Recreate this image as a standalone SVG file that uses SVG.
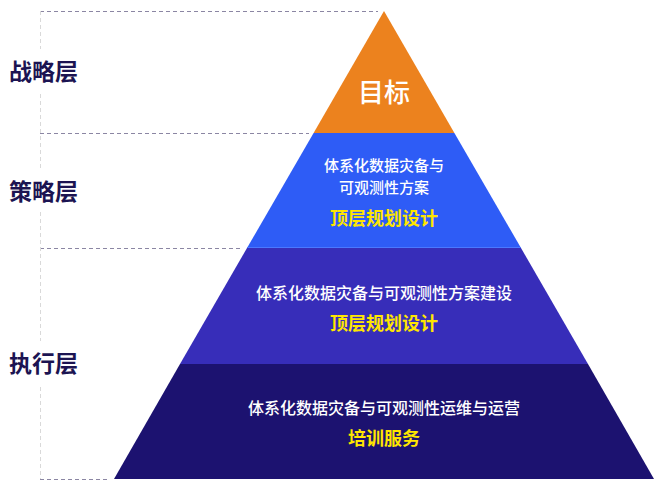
<svg xmlns="http://www.w3.org/2000/svg" width="664" height="491" viewBox="0 0 664 491">
<style>
.lbl{font-family:"Noto Sans CJK SC","Noto Sans",sans-serif;font-size:23px;font-weight:bold;fill:#1c1452}
.w{font-family:"Noto Sans CJK SC","Noto Sans",sans-serif;font-size:16px;font-weight:500;fill:#ffffff;text-anchor:middle}
.w2{font-size:15px}
.y{font-family:"Noto Sans CJK SC","Noto Sans",sans-serif;font-size:18px;font-weight:bold;fill:#ffe600;text-anchor:middle}
.hd{stroke:#8b86a3;stroke-width:1;stroke-dasharray:4 3;fill:none}
.vd{stroke:#d9d9d9;stroke-width:1;stroke-dasharray:4 3;fill:none}
</style>
<defs>
<radialGradient id="sh" cx="0.5" cy="0" r="0.5">
<stop offset="0" stop-color="#000" stop-opacity="0.35"/>
<stop offset="1" stop-color="#000" stop-opacity="0"/>
</radialGradient>
<clipPath id="c2"><polygon points="313.6,133 454.4,133 521,248 247,248"/></clipPath>
<clipPath id="c3"><polygon points="247,248 521,248 588,364 180,364"/></clipPath>
<clipPath id="c4"><polygon points="180,364 588,364 654,479 114,479"/></clipPath>
</defs>
<g id="guides">
<path class="hd" d="M40,11.5H378M40,133.5H309M40,248.5H243M40,479.5H110"/>
<path class="vd" d="M40.5,11V49M40.5,94V170M40.5,212V341M40.5,387V479"/>
</g>
<g id="label-strategy"><text class="lbl" x="9" y="80">战略层</text></g>
<g id="label-tactics"><text class="lbl" x="9" y="200">策略层</text></g>
<g id="label-exec"><text class="lbl" x="9" y="372">执行层</text></g>
<g id="tier1">
<polygon points="384,11 454.4,133 313.6,133" fill="#ec821e"/>
<text x="384" y="102" font-family="Noto Sans CJK SC,Noto Sans,sans-serif" font-size="26" font-weight="500" fill="#fff" text-anchor="middle">目标</text>
</g>
<g id="tier2">
<polygon points="313.6,133 454.4,133 521,248 247,248" fill="#2e5cf6"/>
<g clip-path="url(#c2)"><ellipse cx="384" cy="133" rx="90" ry="14" fill="url(#sh)"/></g>
<line x1="247" y1="247.5" x2="521" y2="247.5" stroke="#4a78ff" stroke-width="1"/>
<text class="w w2" x="384" y="171">体系化数据灾备与</text>
<text class="w w2" x="384" y="193">可观测性方案</text>
<text class="y" x="384" y="225">顶层规划设计</text>
</g>
<g id="tier3">
<polygon points="247,248 521,248 588,364 180,364" fill="#372db9"/>
<g clip-path="url(#c3)"><ellipse cx="384" cy="248" rx="150" ry="18" fill="url(#sh)"/></g>
<text class="w" x="384" y="299">体系化数据灾备与可观测性方案建设</text>
<text class="y" x="384" y="330">顶层规划设计</text>
</g>
<g id="tier4">
<polygon points="180,364 588,364 654,479 114,479" fill="#1c1270"/>
<g clip-path="url(#c4)"><ellipse cx="384" cy="364" rx="200" ry="20" fill="url(#sh)"/></g>
<text class="w" x="384" y="414">体系化数据灾备与可观测性运维与运营</text>
<text class="y" x="384" y="445">培训服务</text>
</g>
</svg>
